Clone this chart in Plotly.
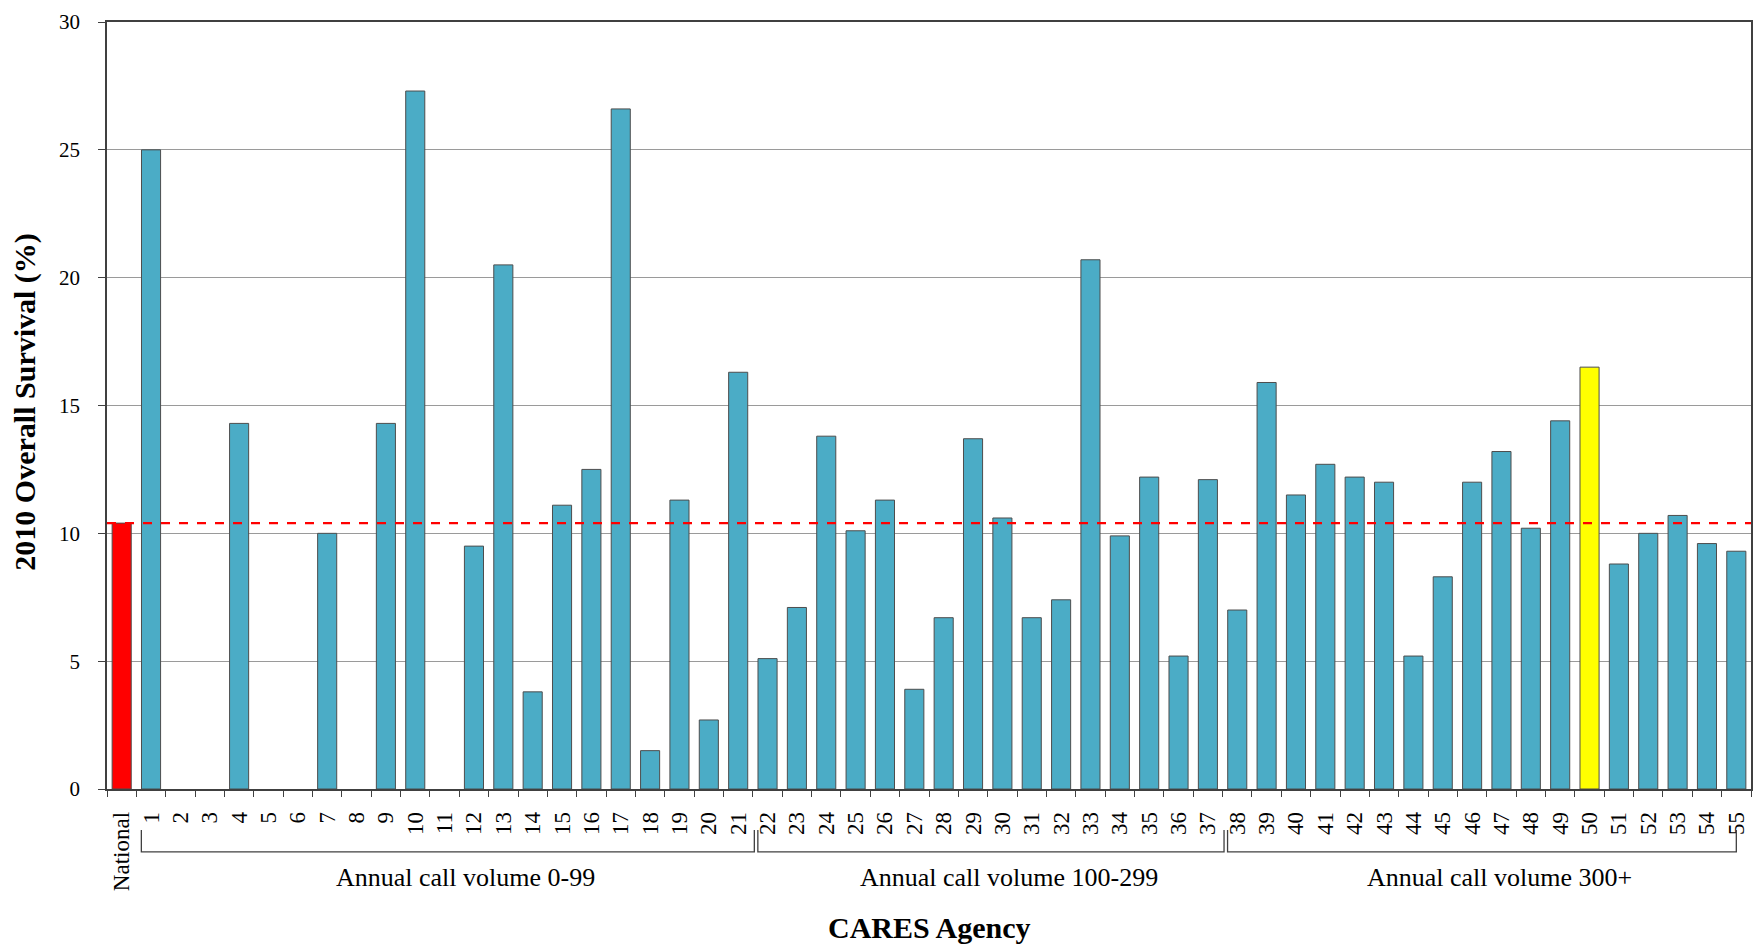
import plotly.graph_objects as go

categories = ["National"] + [str(i) for i in range(1, 56)]
survival = [10.4,
            25.0, 0, 0, 14.3, 0, 0, 10.0, 0, 14.3, 27.3,
            0, 9.5, 20.5, 3.8, 11.1, 12.5, 26.6, 1.5, 11.3, 2.7,
            16.3, 5.1, 7.1, 13.8, 10.1, 11.3, 3.9, 6.7, 13.7, 10.6,
            6.7, 7.4, 20.7, 9.9, 12.2, 5.2, 12.1, 7.0, 15.9, 11.5,
            12.7, 12.2, 12.0, 5.2, 8.3, 12.0, 13.2, 10.2, 14.4, 16.5,
            8.8, 10.0, 10.7, 9.6, 9.3]
national_value = 10.4
highlight_agency = "50"
groups = [("Annual call volume 0-99", 1, 21),
          ("Annual call volume 100-299", 22, 37),
          ("Annual call volume 300+", 38, 55)]
y_ticks = [0, 5, 10, 15, 20, 25, 30]

TEAL = "#4BACC6"
colors = []
for c in categories:
    if c == "National":
        colors.append("#FF0000")
    elif c == highlight_agency:
        colors.append("#FFFF00")
    else:
        colors.append(TEAL)
line_widths = [1 if v > 0 else 0 for v in survival]

FONT = "Liberation Serif"

fig = go.Figure()
fig.add_trace(go.Bar(
    x=categories, y=survival,
    marker=dict(color=colors, line=dict(color="#4D4D4D", width=line_widths)),
    width=0.65,
    hoverinfo="x+y",
))

shapes = []
shapes.append(dict(type="line", xref="paper", yref="y", x0=0, x1=1,
                   y0=national_value, y1=national_value,
                   line=dict(color="#FF0000", width=2.2, dash="dash")))

annotations = []
y_h = -0.0821
y_v = -0.0535
n_last = len(categories) - 0.5
for name, s, e in groups:
    x0 = s - 0.33
    x1 = min(e + 0.55, n_last - 0.5)
    shapes.append(dict(type="path", xref="x", yref="paper",
                       path=f"M {x0},{y_v} L {x0},{y_h} L {x1},{y_h} L {x1},{y_v}",
                       line=dict(color="#404040", width=1.3)))
    annotations.append(dict(x=(x0 + x1) / 2 + 0.6, y=-0.116, xref="x", yref="paper",
                            text=name, showarrow=False,
                            font=dict(family=FONT, size=26, color="black"),
                            xanchor="center", yanchor="middle"))

annotations.append(dict(x=0.5, y=-0.1812, xref="paper", yref="paper",
                        text="<b>CARES Agency</b>", showarrow=False,
                        font=dict(family=FONT, size=30, color="black"),
                        xanchor="center", yanchor="middle"))
annotations.append(dict(x=-0.0499, y=0.505, xref="paper", yref="paper",
                        text="<b>2010 Overall Survival (%)</b>", showarrow=False,
                        textangle=-90,
                        font=dict(family=FONT, size=30, color="black"),
                        xanchor="center", yanchor="middle"))

# page body has an 8px margin, so the figure is sized to fit inside the window
fig.update_layout(
    width=1754, height=938,
    margin=dict(l=99, r=11, t=14, b=157),
    paper_bgcolor="white", plot_bgcolor="white",
    showlegend=False,
    shapes=shapes,
    annotations=annotations,
    font=dict(family=FONT, color="black"),
)
fig.update_xaxes(
    type="category", automargin=False,
    categoryorder="array", categoryarray=categories,
    tickangle=-90,
    tickfont=dict(family=FONT, size=23, color="black"),
    ticks="outside", tickson="boundaries", ticklen=6, tickcolor="#404040",
    ticklabelstandoff=12,
    showline=True, linecolor="#404040", linewidth=1.5, mirror=True,
    showgrid=False,
    range=[-0.5, 55.5],
)
fig.update_yaxes(
    automargin=False,
    range=[0, 30], tickvals=y_ticks,
    tickfont=dict(family=FONT, size=21, color="black"),
    ticks="outside", ticklen=7, tickcolor="#404040",
    ticklabelstandoff=14, ticklabeloverflow="allow",
    showline=True, linecolor="#404040", linewidth=1.5, mirror=True,
    showgrid=True, gridcolor="#9A9A9A", gridwidth=1,
    zeroline=False,
)

fig.write_html("out.html")
